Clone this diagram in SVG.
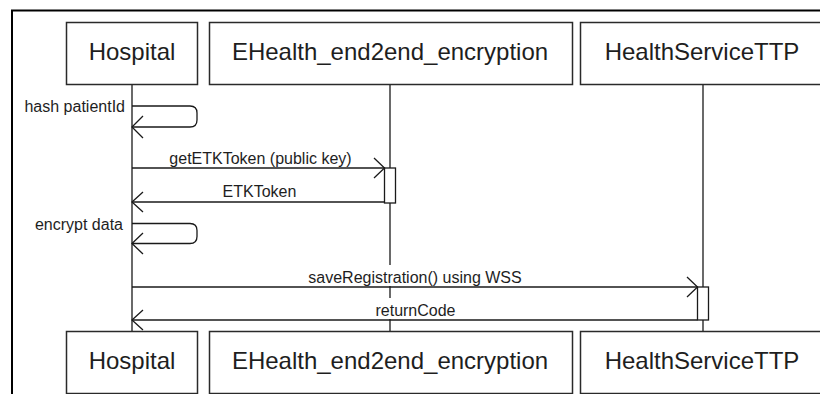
<svg xmlns="http://www.w3.org/2000/svg" width="820" height="394" viewBox="0 0 820 394">
  <style>
    .box { fill: #fff; stroke: #2a2a2a; stroke-width: 1.5; }
    .head { font-family: "Liberation Sans", Arial, sans-serif; font-size: 24px; fill: #1e1e1e; text-anchor: middle; }
    .life { stroke: #1a1a1a; stroke-width: 1.3; fill: none; }
    .msg { stroke: #1a1a1a; stroke-width: 1.3; fill: none; }
    .act { fill: #fff; stroke: #1a1a1a; stroke-width: 1.3; }
    .lbl { font-family: "Liberation Sans", Arial, sans-serif; font-size: 16px; fill: #1e1e1e; }
    .mid { text-anchor: middle; }
    .end { text-anchor: end; }
    .bg { fill: #fff; }
  </style>

  <!-- frame -->
  <path d="M12 400 V10.5 H830" fill="none" stroke="#000" stroke-width="2"/>

  <!-- lifelines -->
  <g id="lifelines">
    <line class="life" x1="132" y1="85" x2="132" y2="331"/>
    <line class="life" x1="390" y1="85" x2="390" y2="331"/>
    <line class="life" x1="703" y1="85" x2="703" y2="331"/>
  </g>

  <!-- participants (top) -->
  <g id="hospital-top">
    <rect class="box" x="66.5" y="22.5" width="131" height="62"/>
    <text class="head" x="132" y="60">Hospital</text>
  </g>
  <g id="ehealth-top">
    <rect class="box" x="209.5" y="22.5" width="363" height="62"/>
    <text class="head" x="390" y="60">EHealth_end2end_encryption</text>
  </g>
  <g id="hst-top">
    <rect class="box" x="580.5" y="22.5" width="250" height="62"/>
    <text class="head" x="702" y="60">HealthServiceTTP</text>
  </g>

  <!-- participants (bottom) -->
  <g id="hospital-bottom">
    <rect class="box" x="66.5" y="331.5" width="131" height="62"/>
    <text class="head" x="132" y="369">Hospital</text>
  </g>
  <g id="ehealth-bottom">
    <rect class="box" x="209.5" y="331.5" width="363" height="62"/>
    <text class="head" x="390" y="369">EHealth_end2end_encryption</text>
  </g>
  <g id="hst-bottom">
    <rect class="box" x="580.5" y="331.5" width="250" height="62"/>
    <text class="head" x="702" y="369">HealthServiceTTP</text>
  </g>

  <!-- activations -->
  <g id="activations">
    <rect class="act" x="384.5" y="168" width="11" height="35"/>
    <rect class="act" x="697.5" y="287" width="11" height="33"/>
  </g>

  <!-- messages -->
  <g id="connectors">
    <!-- hash patientId (self) -->
    <path class="msg" d="M132 106 H190 Q197 106 197 113 V120 Q197 127 190 127 H132"/>
    <path class="msg" d="M143 116 L132 127 L143 138"/>
    <text class="lbl end" x="125" y="112">hash patientId</text>

    <!-- getETKToken -->
    <rect class="bg" x="164" y="150" width="193" height="17"/>
    <text class="lbl mid" x="260.5" y="164">getETKToken (public key)</text>
    <line class="msg" x1="132" y1="168" x2="384.5" y2="168"/>
    <path class="msg" d="M374 158 L384.5 168 L374 178"/>

    <!-- ETKToken return -->
    <rect class="bg" x="219" y="184" width="81" height="17"/>
    <text class="lbl mid" x="259.5" y="197">ETKToken</text>
    <line class="msg" x1="384.5" y1="202" x2="132" y2="202"/>
    <path class="msg" d="M143 192 L132 202 L143 212"/>

    <!-- encrypt data (self) -->
    <path class="msg" d="M132 223.5 H190 Q197 223.5 197 230.5 V236.5 Q197 243.5 190 243.5 H132"/>
    <path class="msg" d="M143 233 L132 243.5 L143 254"/>
    <text class="lbl end" x="123" y="229.5">encrypt data</text>

    <!-- saveRegistration -->
    <rect class="bg" x="304" y="265" width="222" height="21"/>
    <text class="lbl mid" x="415" y="283">saveRegistration() using WSS</text>
    <line class="msg" x1="132" y1="287" x2="697.5" y2="287"/>
    <path class="msg" d="M687 277 L697.5 287 L687 297"/>

    <!-- returnCode -->
    <rect class="bg" x="373" y="298" width="85" height="21"/>
    <text class="lbl mid" x="415.5" y="316">returnCode</text>
    <line class="msg" x1="697.5" y1="320" x2="132" y2="320"/>
    <path class="msg" d="M143 310 L132 320 L143 330"/>
  </g>
</svg>
